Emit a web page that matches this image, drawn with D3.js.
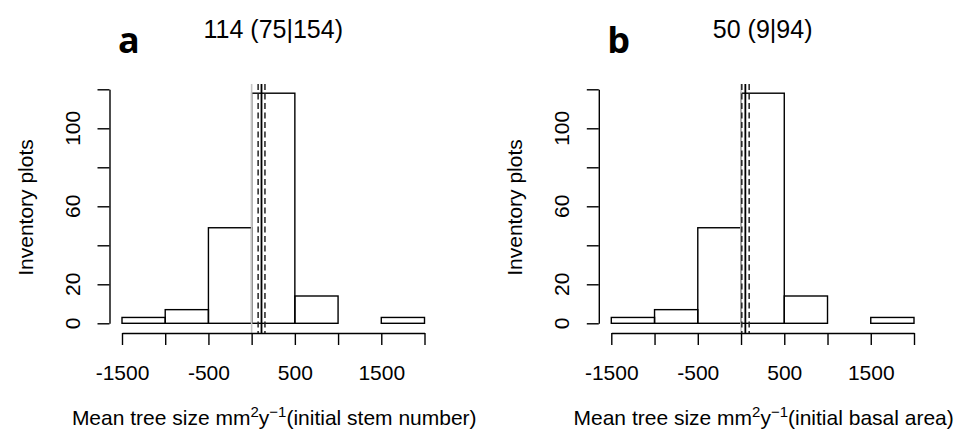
<!DOCTYPE html>
<html>
<head>
<meta charset="utf-8">
<script src="https://cdn.jsdelivr.net/npm/d3@7"></script>
<style>
  body { margin: 0; background: #fff; }
  text { font-family: "Liberation Sans", Arial, sans-serif; fill: #000; }
</style>
</head>
<body>
<svg id="chart" width="957" height="432"></svg>
<script>
// histogram bins (same for both panels)
const binEdges = [-1500, -1000, -500, 0, 500, 1000, 1500, 2000];
const countsA = [3, 7, 49, 118, 14, 0, 3];
const countsB = [3, 7, 49, 118, 14, 0, 3];

// estimate (lower|upper)
const statsA = { mid: 114, lo: 75, hi: 154 };
const statsB = { mid: 50, lo: 9, hi: 94 };

const xTicks = [-1500, -1000, -500, 0, 500, 1000, 1500, 2000];
const xTickLabels = ["-1500", "", "-500", "", "500", "", "1500", ""];
const yTicks = [0, 20, 40, 60, 80, 100, 120];
const yTickLabels = ["0", "20", "", "60", "", "100", ""];

const panels = [
  { letter: "a", counts: countsA, stats: statsA, label: "(initial stem number)", x0: 122, x1: 424.5 },
  { letter: "b", counts: countsB, stats: statsB, label: "(initial basal area)", x0: 611.3, x1: 914 }
];

const svg = d3.select("#chart");
const plotTop = 84, plotBottom = 333;

panels.forEach(p => {
  const g = svg.append("g");
  const x = d3.scaleLinear().domain([-1500, 2000]).range([p.x0, p.x1]);
  const y = d3.scaleLinear().domain([0, 120]).range([323.3, 89.3]);
  const axisX = p.x0 - 12.5;
  const cx = (p.x0 + p.x1) / 2;

  // bars
  const bins = p.counts.map((c, i) => ({ a: binEdges[i], b: binEdges[i + 1], c: c }));
  g.selectAll("rect.bar").data(bins).enter().append("rect")
    .attr("x", d => x(d.a))
    .attr("width", d => x(d.b) - x(d.a))
    .attr("y", d => y(d.c))
    .attr("height", d => y(0) - y(d.c))
    .attr("fill", "none")
    .attr("stroke", "#000")
    .attr("stroke-width", 1.4);

  // reference lines
  const vlines = [
    { v: 0, color: "#c4c4c4", w: 1.6, dash: null },
    { v: p.stats.lo, color: "#222", w: 1.5, dash: "6,3.5" },
    { v: p.stats.hi, color: "#222", w: 1.5, dash: "6,3.5" },
    { v: p.stats.mid, color: "#000", w: 1.8, dash: null }
  ];
  g.selectAll("line.ref").data(vlines).enter().append("line")
    .attr("x1", d => x(d.v)).attr("x2", d => x(d.v))
    .attr("y1", plotTop).attr("y2", plotBottom)
    .attr("stroke", d => d.color)
    .attr("stroke-width", d => d.w)
    .attr("stroke-dasharray", d => d.dash);

  // x axis
  const xa = g.append("g")
    .attr("transform", `translate(0,${plotBottom})`)
    .call(d3.axisBottom(x).tickValues(xTicks).tickSize(12).tickSizeOuter(0).tickPadding(20)
      .tickFormat((d, i) => xTickLabels[i]));
  xa.selectAll("path, line").attr("stroke", "#000").attr("stroke-width", 1.4);
  xa.selectAll("text").style("font-family", '"Liberation Sans", Arial, sans-serif').style("font-size", "21px").attr("fill", "#000");

  // y axis
  const ya = g.append("g")
    .attr("transform", `translate(${axisX},0)`)
    .call(d3.axisLeft(y).tickValues(yTicks).tickSize(12).tickSizeOuter(0).tickFormat(""));
  ya.selectAll("path, line").attr("stroke", "#000").attr("stroke-width", 1.4);
  g.selectAll("text.ytick").data(yTicks).enter().append("text")
    .attr("transform", d => `translate(${axisX - 30},${y(d)}) rotate(-90)`)
    .attr("text-anchor", "middle")
    .style("font-size", "21px")
    .text((d, i) => yTickLabels[i]);

  // y label
  g.append("text")
    .attr("transform", `translate(${axisX - 77},${(plotTop + plotBottom) / 2 - 1}) rotate(-90)`)
    .attr("text-anchor", "middle")
    .style("font-size", "21px")
    .text("Inventory plots");

  // x label
  const xl = g.append("text")
    .attr("x", cx + 1).attr("y", 425)
    .attr("text-anchor", "middle")
    .style("font-size", "21px");
  xl.append("tspan").text("Mean tree size mm");
  xl.append("tspan").attr("dy", -8).style("font-size", "15px").text("2");
  xl.append("tspan").attr("dy", 8).text("y");
  xl.append("tspan").attr("dy", -8).style("font-size", "15px").text("\u22121");
  xl.append("tspan").attr("dy", 8).text(p.label);

  // title
  g.append("text")
    .attr("x", cx).attr("y", 37.5)
    .attr("text-anchor", "middle")
    .style("font-size", "25px")
    .text(`${p.stats.mid} (${p.stats.lo}|${p.stats.hi})`);

  // panel letter
  g.append("text")
    .attr("x", p.x0 - 4).attr("y", 53)
    .style("font-family", '"Open Sans", "Liberation Sans", sans-serif')
    .style("font-weight", "bold")
    .style("font-size", "36px")
    .text(p.letter);
});
</script>
</body>
</html>
